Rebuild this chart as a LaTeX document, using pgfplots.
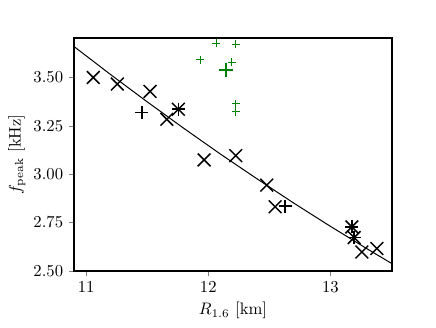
\documentclass[border=0pt]{standalone}
\usepackage{pgfplots}
\pgfplotsset{compat=1.18}
\definecolor{mplgreen}{RGB}{0,128,0}
\begin{document}
\begin{tikzpicture}
\begin{axis}[
    name=ax,
    scale only axis,
    width=190.8pt, height=139.8pt,
    xmin=10.90, xmax=13.505,
    ymin=2.50, ymax=3.704,
    xtick={11,12,13},
    ytick={2.50,2.75,3.00,3.25,3.50},
    yticklabel style={/pgf/number format/.cd, fixed, fixed zerofill, precision=2},
    tick align=outside,
    xtick pos=bottom, ytick pos=left,
    major tick length=3pt,
    axis line style={line width=1.1pt},
    xlabel={$R_{1.6}$ [km]},
    ylabel={$f_{\rm peak}$ [kHz]},
    xlabel style={yshift=1pt},
    ylabel style={yshift=-2pt},
]
% fit curve
\addplot[black, line width=0.6pt] coordinates {
(10.9,3.660) (11.2,3.515) (11.5,3.374) (11.8,3.237) (12.1,3.104)
(12.4,2.976) (12.7,2.851) (13.0,2.731) (13.3,2.615) (13.51,2.536)};
% x markers
\addplot[only marks, mark=x, mark size=5.4pt, black, line width=0.9pt] coordinates {
(11.058,3.500) (11.255,3.466) (11.523,3.428) (11.660,3.284) (11.755,3.336)
(11.966,3.074) (12.225,3.096) (12.479,2.944) (12.548,2.832) (13.176,2.728)
(13.195,2.673) (13.258,2.598) (13.381,2.616)};
% + markers
\addplot[only marks, mark=+, mark size=3.9pt, black, line width=0.9pt] coordinates {
(11.455,3.319) (11.755,3.336) (12.630,2.835) (13.176,2.728) (13.195,2.673)};
% green small
\addplot[only marks, mark=+, mark size=2.5pt, mplgreen, line width=0.6pt] coordinates {
(11.933,3.591) (12.064,3.678) (12.225,3.673) (12.193,3.580) (12.225,3.364) (12.225,3.324)};
% green large
\addplot[only marks, mark=+, mark size=4.3pt, mplgreen, line width=1pt] coordinates {
(12.143,3.540)};
\end{axis}
\path[use as bounding box] ([shift={(-44.4pt,-33.6pt)}]ax.south west) rectangle ([shift={(26.4pt,22.8pt)}]ax.north east);
\end{tikzpicture}
\end{document}
